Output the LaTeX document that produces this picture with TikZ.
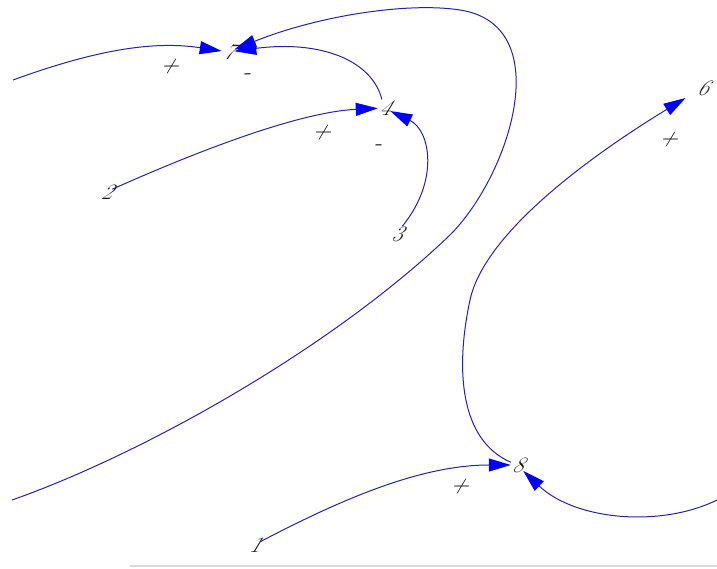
\documentclass[tikz,border=0pt]{standalone}
\usepackage{fontspec}
\usetikzlibrary{arrows.meta}
\newfontfamily\slantfont{Latin Modern Roman}[FakeSlant=0.6]
\definecolor{wireblue}{RGB}{35,35,170}
\definecolor{tipblue}{RGB}{0,0,255}

\begin{document}
\begin{tikzpicture}[
  x=1pt, y=-1pt,
  num/.style={font=\slantfont\fontsize{22}{22}\selectfont, text=black!90, inner sep=1pt},
  sign/.style={font=\slantfont\fontsize{24}{24}\selectfont, text=black, inner sep=0pt},
  wire/.style={draw=wireblue, line width=1pt,
               -{Triangle[length=22pt, width=13pt, fill=tipblue, color=tipblue]}},
]
\useasboundingbox (0,0) rectangle (717,568);

% ==================== nodes ====================
\node[num] (n7) at (228,52) {7};
\node[num] (n4) at (384,108) {4};
\node[num] (n6) at (702,88) {6};
\node[num] (n2) at (106,192) {2};
\node[num] (n3) at (396,234) {3};
\node[num] (n8) at (517,465) {8};
\node[num] (n1) at (254,545) {1};

\coordinate (inL) at (13,80);
\coordinate (inB) at (12,500);
\coordinate (inR) at (717,500);

% ==================== signs ====================
\node[sign] (p7) at (168,67) {+};
\node[sign] (m7) at (245,77) {-};
\node[sign] (p4) at (320,133) {+};
\node[sign] (m4) at (376,148) {-};
\node[sign] (p6) at (667,140) {+};
\node[sign] (p8) at (458,487) {+};

% ==================== branches ====================
\draw[wire] (inL) .. controls (90,52) and (150,40) .. (n7);
\draw[wire] (n2) .. controls (200,150) and (300,112) .. (n4);
\draw[wire] (n3) .. controls (440,180) and (430,130) .. (n4);
\draw[wire] (n4) .. controls (372,60) and (320,40) .. (n7);
\draw[wire] (inB) .. controls (140,455) and (330,350) .. (450,235)
   .. controls (510,175) and (558,25) .. (460,10)
   .. controls (410,2) and (320,15) .. (n7);
\draw[wire] (n1) .. controls (340,500) and (420,465) .. (n8);
\draw[wire] (inR) .. controls (660,528) and (575,520) .. (n8);
\draw[wire, shorten >=12pt] (n8) .. controls (460,440) and (455,370) .. (470,300)
   .. controls (485,230) and (600,150) .. (n6);

% ==================== frame edge ====================
\draw[gray!30, line width=1.5pt] (130,566) -- (717,566);

\end{tikzpicture}
\end{document}
